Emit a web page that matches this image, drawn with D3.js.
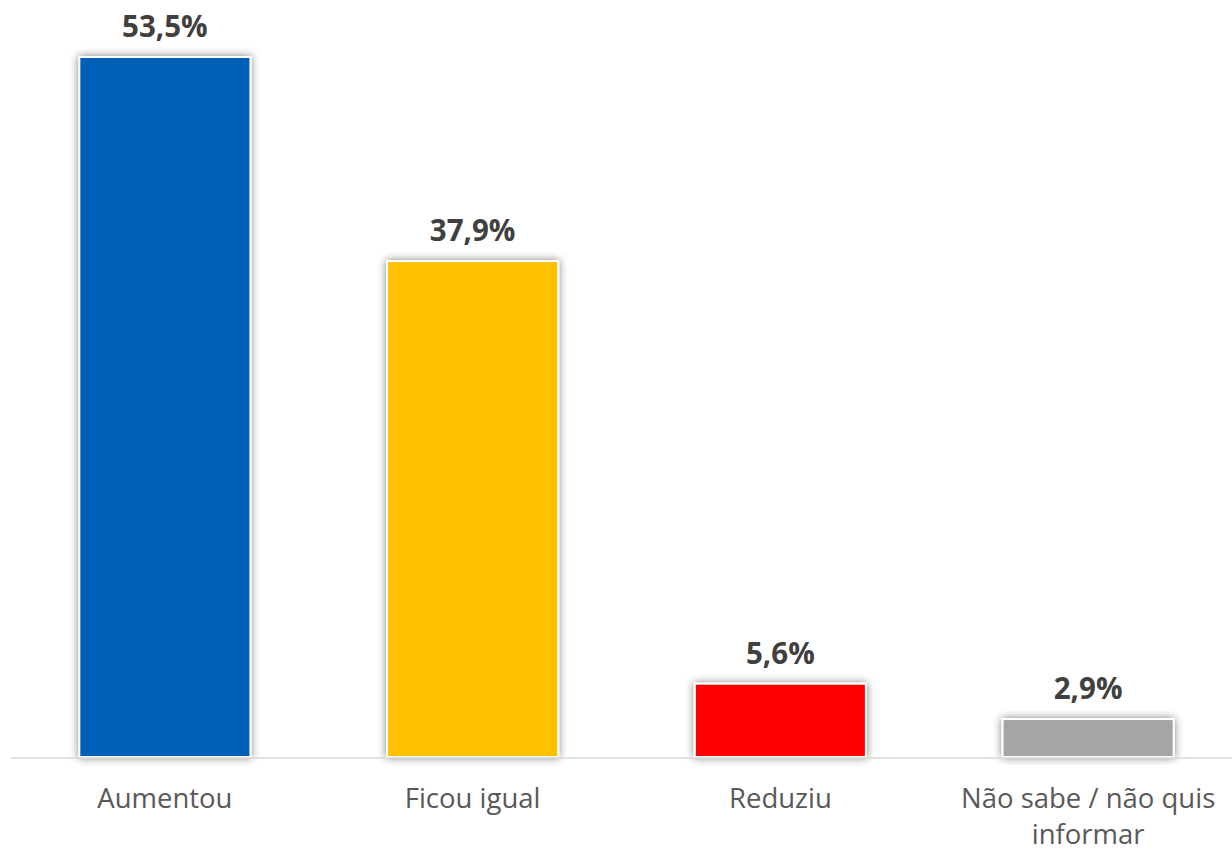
<!DOCTYPE html>
<html>
<head>
<meta charset="utf-8">
<script src="https://cdn.jsdelivr.net/npm/d3@7"></script>
<style>
  body { margin: 0; background: #fff; }
  svg { display: block; }
</style>
</head>
<body>
<svg id="chart" width="1232" height="851"></svg>
<script>
const categories = ["Aumentou", "Ficou igual", "Reduziu", "Não sabe / não quis informar"];
const values = [53.5, 37.9, 5.6, 2.9];
const colors = ["#005EB8", "#FFC000", "#FF0000", "#A5A5A5"];

const width = 1232, height = 851;
const baseY = 757;
const svg = d3.select("#chart");

// soft shadow round the bars
const defs = svg.append("defs");
const f = defs.append("filter").attr("id", "shadow")
  .attr("x", "-20%").attr("y", "-20%").attr("width", "140%").attr("height", "140%");
f.append("feDropShadow")
  .attr("dx", 0).attr("dy", 0)
  .attr("stdDeviation", 4.5)
  .attr("flood-color", "#000")
  .attr("flood-opacity", 0.5);

const x = d3.scaleBand()
  .domain(categories)
  .range([11, 1242])
  .paddingInner(0.444)
  .paddingOuter(0.222);

const y = d3.scaleLinear()
  .domain([0, 53.5])
  .range([baseY, 57]);

const data = categories.map((c, i) => ({ cat: c, val: values[i], color: colors[i] }));

svg.append("g").selectAll("rect")
  .data(data)
  .join("rect")
  .attr("x", d => x(d.cat))
  .attr("y", d => y(d.val))
  .attr("width", x.bandwidth())
  .attr("height", d => y(0) - y(d.val))
  .attr("fill", d => d.color)
  .attr("stroke", "#fff")
  .attr("stroke-width", 2)
  .attr("filter", "url(#shadow)");

// baseline
svg.append("line")
  .attr("x1", 11).attr("x2", width)
  .attr("y1", baseY + 1).attr("y2", baseY + 1)
  .attr("stroke", "#d9d9d9")
  .attr("stroke-width", 1.5);

// value labels
const fmt = v => d3.format(".1f")(v).replace(".", ",") + "%";
svg.append("g").selectAll("text")
  .data(data)
  .join("text")
  .attr("x", d => x(d.cat) + x.bandwidth() / 2)
  .attr("y", d => y(d.val) - 20)
  .attr("text-anchor", "middle")
  .style("font-family", "'Open Sans', sans-serif")
  .style("font-weight", "bold")
  .style("font-size", "29.5px")
  .style("fill", "#404040")
  .text(d => fmt(d.val));

// category labels, wrapped to the band step
function wrap(text, w) {
  text.each(function() {
    const t = d3.select(this);
    const words = t.text().split(/\s+/);
    const xx = t.attr("x");
    t.text(null);
    let line = [];
    let ts = t.append("tspan").attr("x", xx).attr("dy", 0);
    words.forEach(word => {
      line.push(word);
      ts.text(line.join(" "));
      if (ts.node().getComputedTextLength() > w && line.length > 1) {
        line.pop();
        ts.text(line.join(" "));
        line = [word];
        ts = t.append("tspan").attr("x", xx).attr("dy", 36).text(word);
      }
    });
  });
}

svg.append("g").selectAll("text")
  .data(data)
  .join("text")
  .attr("x", d => x(d.cat) + x.bandwidth() / 2)
  .attr("y", 808)
  .attr("text-anchor", "middle")
  .style("font-family", "'Open Sans', sans-serif")
  .style("font-size", "27.5px")
  .style("fill", "#595959")
  .text(d => d.cat)
  .call(wrap, x.step() - 10);
</script>
</body>
</html>
